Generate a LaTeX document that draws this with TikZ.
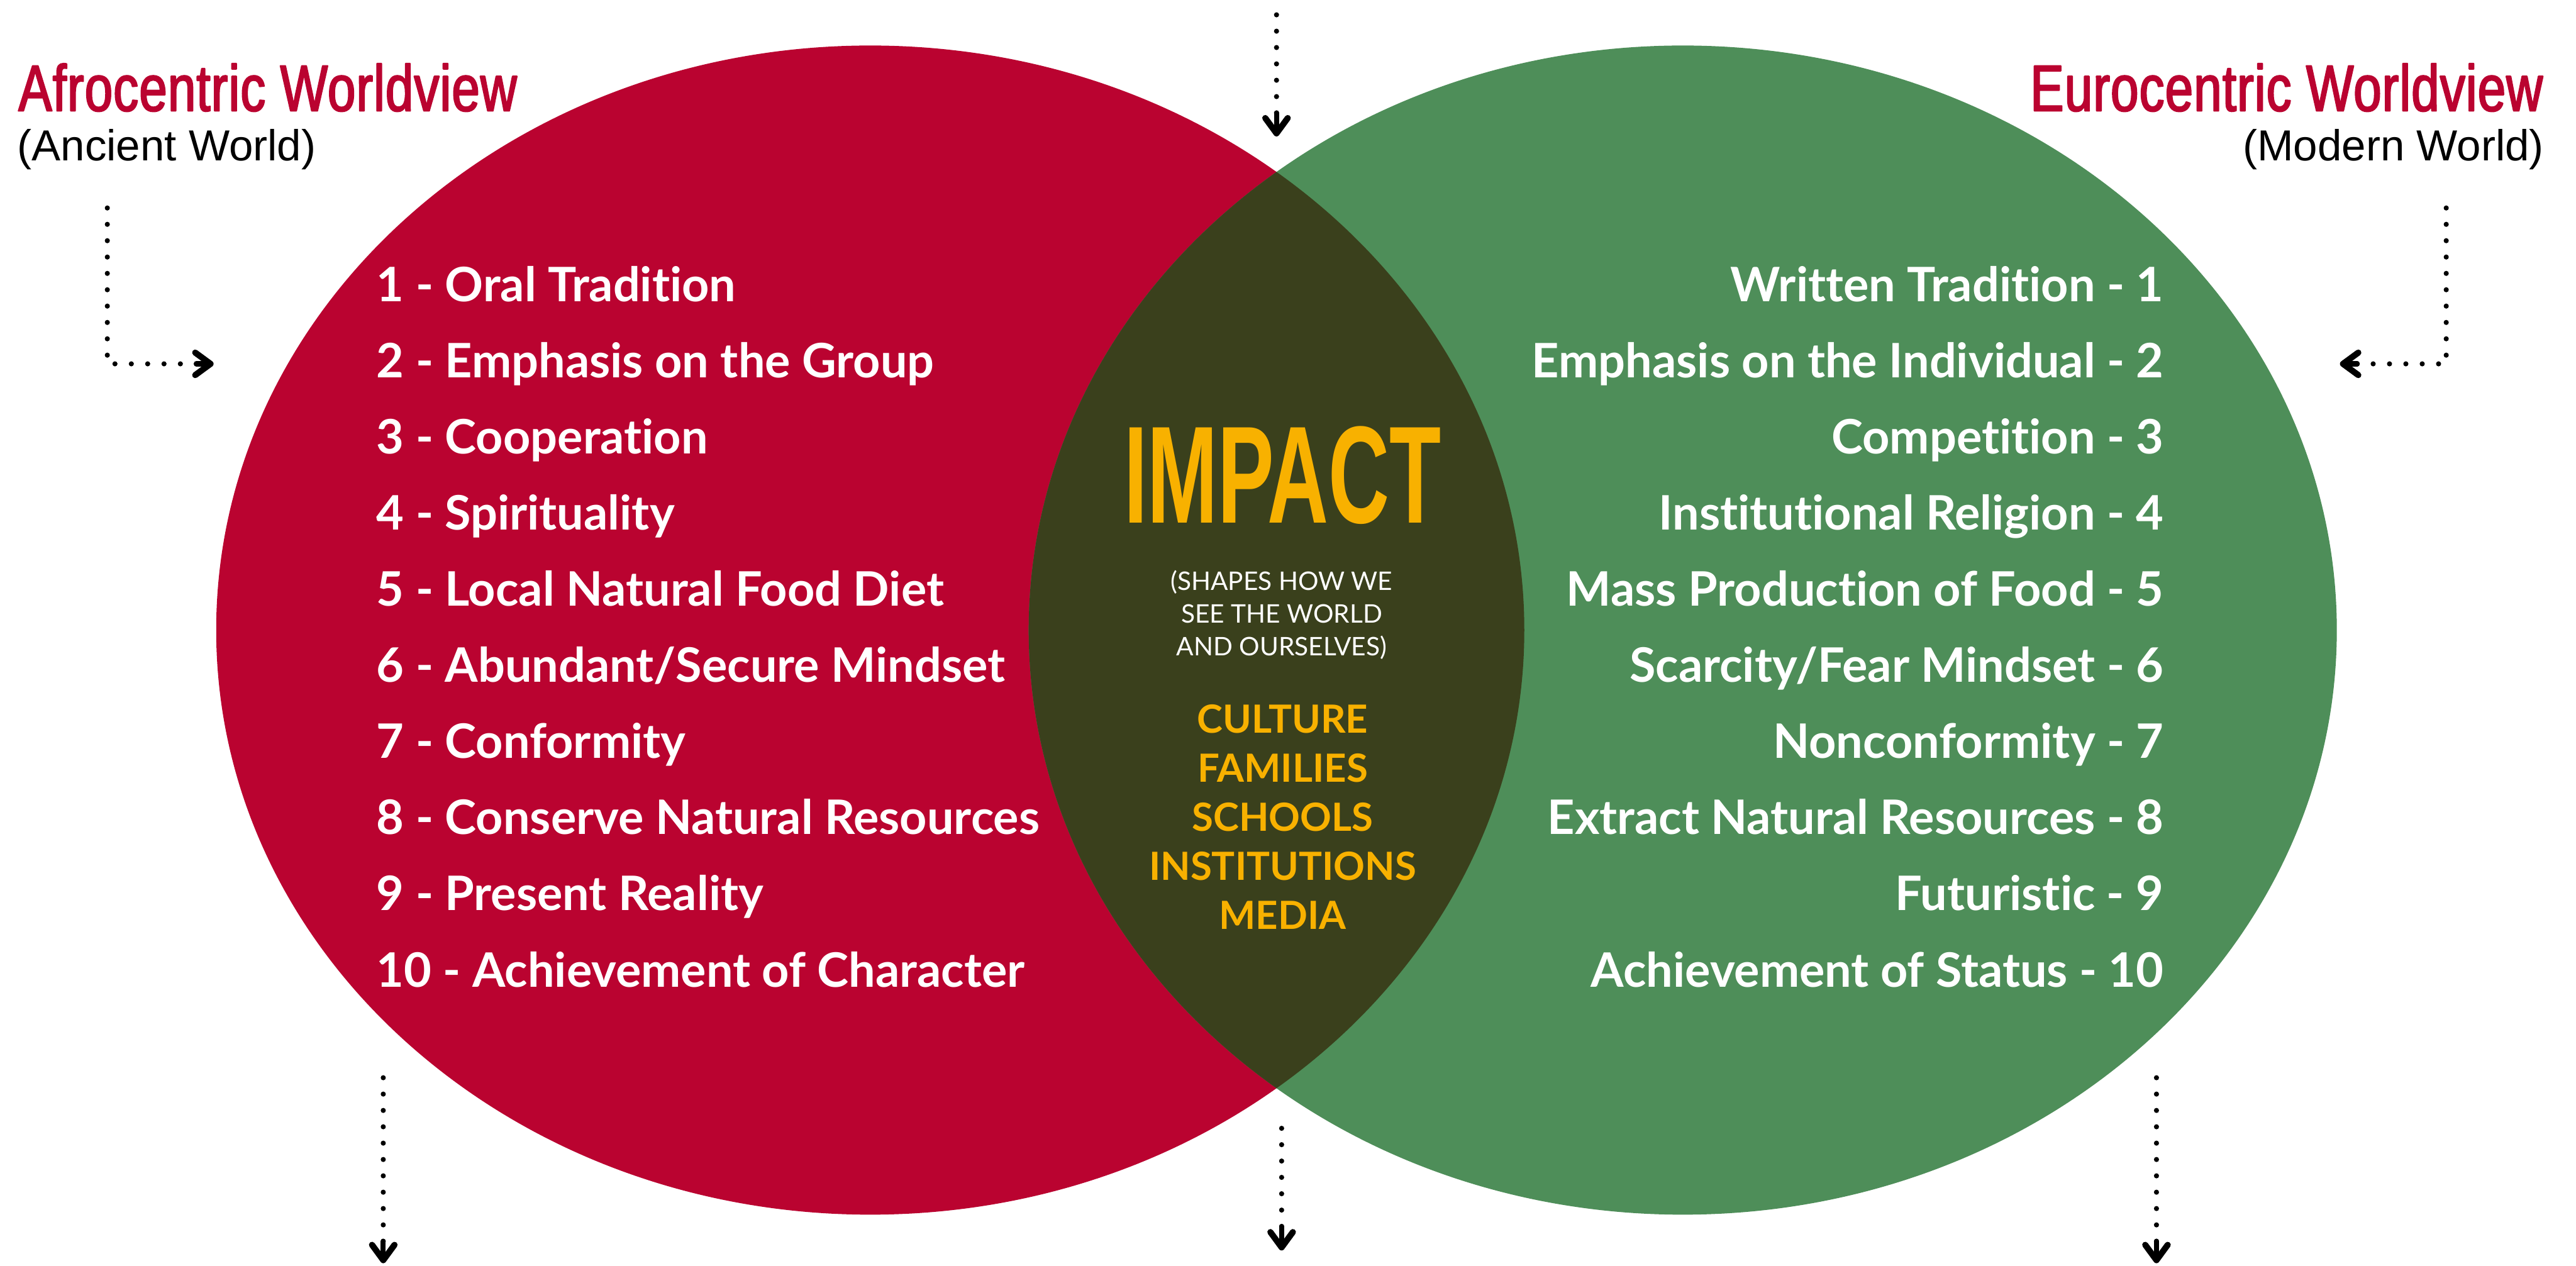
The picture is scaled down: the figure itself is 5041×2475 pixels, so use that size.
\documentclass[tikz,border=0pt]{standalone}
\usepackage{fontspec}
\setmainfont{Lato}[Ligatures={NoCommon}]
\newfontfamily\condfont[FakeStretch=0.77,FakeBold=2.2,LetterSpace=1]{Liberation Sans}
\newfontfamily\impactfont[FakeStretch=0.61]{Liberation Sans}
\newfontfamily\plainfont{Liberation Sans}
\usetikzlibrary{arrows.meta}
\definecolor{afroRed}{HTML}{BA0330}
\definecolor{euroGreen}{HTML}{4E8E59}
\definecolor{mixOlive}{HTML}{3A401C}
\definecolor{impactGold}{HTML}{F8B100}

\begin{document}
\begin{tikzpicture}[x=0.1pt,y=-0.1pt,line cap=round,line join=round]
\path[fill=white] (0,0) rectangle (5041,2475);
\tikzset{item/.style={inner sep=0pt,text=white,font={\fontsize{9.3pt}{9.3pt}\selectfont\bfseries}},leftitem/.style={item,anchor=base west},rightitem/.style={item,anchor=base east},heading/.style={inner sep=0pt,text=afroRed,font={\condfont\fontsize{12.8pt}{12.8pt}\selectfont}},era/.style={inner sep=0pt,text=black,font={\plainfont\fontsize{8.5pt}{8.5pt}\selectfont}},lens/.style={inner sep=0pt,text=white,anchor=base,font={\fontsize{5pt}{5pt}\selectfont}},reach/.style={inner sep=0pt,text=impactGold,anchor=base,font={\fontsize{7.6pt}{7.6pt}\selectfont\bfseries}},dotline/.style={draw=black,line width=1pt,dash pattern=on 0pt off 3.2pt},tipline/.style={draw=black,line width=1pt,-{Straight Barb[length=3pt,width=4.4pt,line width=1.2pt,round]}}}
\coordinate (afro) at (1703,1233); \coordinate (euro) at (3293,1233);
\fill[afroRed] (afro) ellipse [x radius=128pt,y radius=114.4pt];
\fill[euroGreen] (euro) ellipse [x radius=128pt,y radius=114.4pt];
\begin{scope}
\clip (afro) ellipse [x radius=128pt,y radius=114.4pt];
\fill[mixOlive] (euro) ellipse [x radius=128pt,y radius=114.4pt];
\end{scope}
\node[heading,anchor=base west] (afrotitle) at (34,217) {Afrocentric Worldview};
\node[era,anchor=base west] (afroera) at (32,315) {(Ancient World)};
\node[heading,anchor=base east] (eurotitle) at (4978,217) {Eurocentric Worldview};
\node[era,anchor=base east] (euroera) at (4980,315) {(Modern World)};
\node[leftitem] (a1) at (735,590) {1 - Oral Tradition}; \node[leftitem] (a2) at (735,739) {2 - Emphasis on the Group};
\node[leftitem] (a3) at (735,888) {3 - Cooperation}; \node[leftitem] (a4) at (735,1037) {4 - Spirituality};
\node[leftitem] (a5) at (735,1186) {5 - Local Natural Food Diet}; \node[leftitem] (a6) at (735,1335) {6 - Abundant/Secure Mindset};
\node[leftitem] (a7) at (735,1484) {7 - Conformity}; \node[leftitem] (a8) at (735,1633) {8 - Conserve Natural Resources};
\node[leftitem] (a9) at (735,1782) {9 - Present Reality}; \node[leftitem] (a10) at (735,1931) {10 - Achievement of Character};
\node[rightitem] (e1) at (4236,590) {Written Tradition - 1}; \node[rightitem] (e2) at (4236,739) {Emphasis on the Individual - 2};
\node[rightitem] (e3) at (4236,888) {Competition - 3}; \node[rightitem] (e4) at (4236,1037) {Institutional Religion - 4};
\node[rightitem] (e5) at (4236,1186) {Mass Production of Food - 5}; \node[rightitem] (e6) at (4236,1335) {Scarcity/Fear Mindset - 6};
\node[rightitem] (e7) at (4236,1484) {Nonconformity - 7}; \node[rightitem] (e8) at (4236,1633) {Extract Natural Resources - 8};
\node[rightitem] (e9) at (4236,1782) {Futuristic - 9}; \node[rightitem] (e10) at (4236,1931) {Achievement of Status - 10};
\node[inner sep=0pt,anchor=base,text=impactGold,font={\impactfont\bfseries\fontsize{27.1pt}{27.1pt}\selectfont}] (impact) at (2510,1023) {IMPACT};
\node[lens] (lens1) at (2508,1155) {(SHAPES HOW WE}; \node[lens] (lens2) at (2508,1219) {SEE THE WORLD}; \node[lens] (lens3) at (2508,1283) {AND OURSELVES)};
\node[reach] (culture) at (2510,1434) {CULTURE}; \node[reach] (families) at (2510,1530) {FAMILIES}; \node[reach] (schools) at (2510,1626) {SCHOOLS};
\node[reach] (institutions) at (2510,1722) {INSTITUTIONS}; \node[reach] (media) at (2510,1818) {MEDIA};
\coordinate (inA) at (210,407); \coordinate (inAbend) at (210,712); \coordinate (inAstem) at (384,712); \coordinate (inAtip) at (418,712);
\coordinate (inE) at (4787,407); \coordinate (inEbend) at (4787,712); \coordinate (inEstem) at (4613,712); \coordinate (inEtip) at (4579,712);
\coordinate (topA) at (2498,29); \coordinate (topstem) at (2498,221); \coordinate (toptip) at (2498,267);
\coordinate (outA) at (750,2109); \coordinate (outAstem) at (750,2429); \coordinate (outAtip) at (750,2472);
\coordinate (outM) at (2508,2208); \coordinate (outMstem) at (2508,2400); \coordinate (outMtip) at (2508,2447);
\coordinate (outE) at (4220,2109); \coordinate (outEstem) at (4220,2429); \coordinate (outEtip) at (4220,2472);
\draw[dotline] (inA) -- (inAbend) -- (inAstem); \draw[tipline] (inAstem) -- (inAtip);
\draw[dotline] (inE) -- (inEbend) -- (inEstem); \draw[tipline] (inEstem) -- (inEtip);
\draw[dotline] (topA) -- (topstem); \draw[tipline] (topstem) -- (toptip);
\draw[dotline] (outA) -- (outAstem); \draw[tipline] (outAstem) -- (outAtip);
\draw[dotline] (outM) -- (outMstem); \draw[tipline] (outMstem) -- (outMtip);
\draw[dotline] (outE) -- (outEstem); \draw[tipline] (outEstem) -- (outEtip);
\end{tikzpicture}
\end{document}
